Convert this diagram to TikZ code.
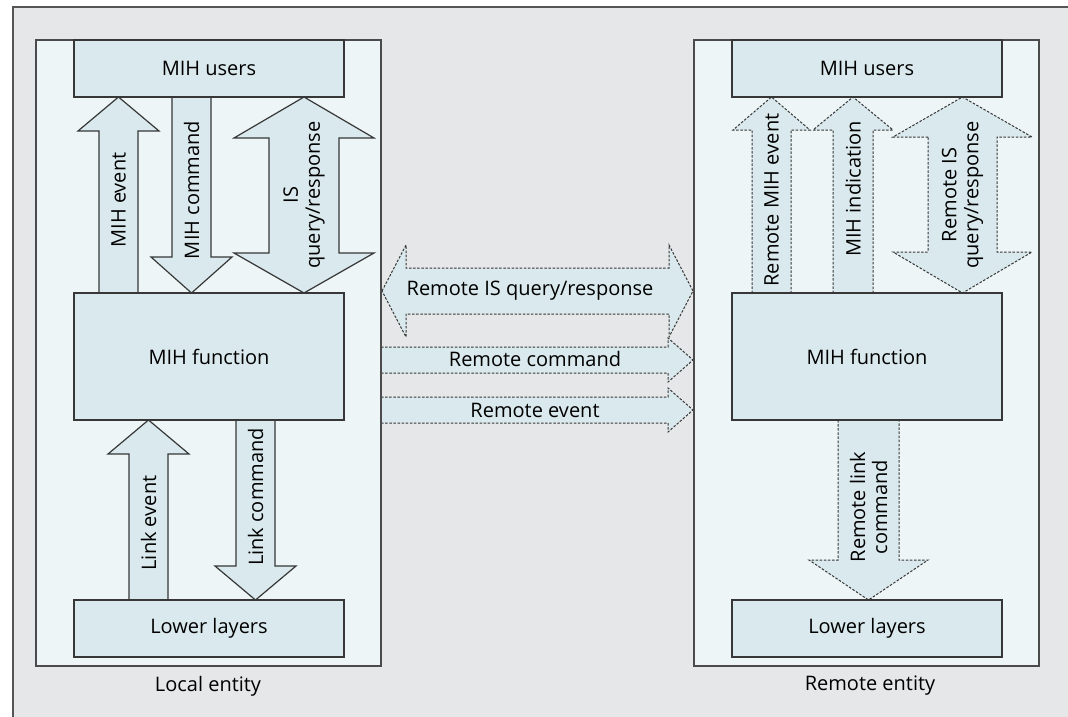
\documentclass[tikz,border=0pt]{standalone}
\usepackage{fontspec}
\setmainfont{Open Sans}
\definecolor{framegray}{RGB}{230,231,232}
\definecolor{panelblue}{RGB}{237,245,247}
\definecolor{boxblue}{RGB}{218,233,237}
\definecolor{edgegray}{RGB}{55,55,55}
\tikzset{
  layerbox/.style={draw=edgegray, line width=1.2pt, fill=boxblue, minimum width=270pt, inner sep=0pt, font=\fontsize{20}{23}\selectfont},
  entity/.style={draw=edgegray!90, line width=1.7pt, fill=panelblue},
  solidarrow/.style={draw=edgegray, line width=1.2pt, fill=boxblue},
  remotearrow/.style={draw=edgegray, line width=1pt, fill=boxblue, dash pattern=on 2.5pt off 1.6pt},
  arrowtext/.style={font=\fontsize{20}{22}\selectfont, align=center, inner sep=0pt},
}
\begin{document}
\begin{tikzpicture}[x=1pt,y=-1pt]
\useasboundingbox (0,0) rectangle (1068,717);
% frame
\fill[framegray] (13,7) rectangle (1068,717);
\draw[edgegray!85, line width=1.5pt] (13,717) -- (13,7) -- (1068,7);

% links between the two entities
\draw[remotearrow] (382,291) -- (406,245) -- (406,268) -- (669,268) -- (669,245) -- (693,291)
  -- (669,337) -- (669,314) -- (406,314) -- (406,337) -- cycle;
\draw[remotearrow] (381,347) -- (668,347) -- (668,338) -- (693,360) -- (668,382) -- (668,373) -- (381,373);
\draw[remotearrow] (381,397) -- (668,397) -- (668,388) -- (693,410) -- (668,432) -- (668,423) -- (381,423);

% entities
\draw[entity] (36,40) rectangle (381,666);
\draw[entity] (694,40) rectangle (1039,666);

% local arrows
\draw[solidarrow] (99,293) -- (99,131) -- (78,131) -- (118.5,97) -- (159,131) -- (138,131) -- (138,293);
\draw[solidarrow] (172,97) -- (172,257) -- (151,257) -- (191.5,293) -- (232,257) -- (211,257) -- (211,97);
\draw[solidarrow] (269,138) -- (234,138) -- (304,97) -- (374,138) -- (339,138) -- (339,253)
  -- (374,253) -- (304,293) -- (234,253) -- (269,253) -- cycle;
\draw[solidarrow] (129,600) -- (129,454) -- (108,454) -- (148.5,420) -- (189,454) -- (168,454) -- (168,600);
\draw[solidarrow] (236,420) -- (236,566) -- (215,566) -- (255.5,600) -- (296,566) -- (275,566) -- (275,420);

% remote arrows
\draw[remotearrow] (752,293) -- (752,130) -- (733,130) -- (771.5,97) -- (810,130) -- (791,130) -- (791,293);
\draw[remotearrow] (833,293) -- (833,130) -- (813,130) -- (853,97) -- (893,130) -- (873,130) -- (873,293);
\draw[remotearrow] (928,137) -- (893,137) -- (962.5,97) -- (1032,137) -- (997,137) -- (997,252)
  -- (1032,252) -- (962.5,293) -- (893,252) -- (928,252) -- cycle;
\draw[remotearrow] (838,420) -- (838,560) -- (809,560) -- (868.5,600) -- (928,560) -- (899,560) -- (899,420);

% layers
\node[layerbox, minimum height=57pt] (lusers) at (209,68.5) {MIH users};
\node[layerbox, minimum height=127pt] (lfunc) at (209,356.5) {MIH function};
\node[layerbox, minimum height=57pt] (llower) at (209,628.5) {Lower layers};
\node[layerbox, minimum height=57pt] (rusers) at (867,68.5) {MIH users};
\node[layerbox, minimum height=127pt] (rfunc) at (867,356.5) {MIH function};
\node[layerbox, minimum height=57pt] (rlower) at (867,628.5) {Lower layers};

% arrow labels
\node[arrowtext, rotate=90] (mihevent) at (118.5,200) {MIH event};
\node[arrowtext, rotate=90] (mihcmd) at (191.5,190) {MIH command};
\node[arrowtext, rotate=90] (isqr) at (304,195) {IS\\query/response};
\node[arrowtext, rotate=90] (linkevent) at (148.5,523) {Link event};
\node[arrowtext, rotate=90] (linkcmd) at (255.5,497) {Link command};
\node[arrowtext, rotate=90] (rmihevent) at (771.5,200) {Remote MIH event};
\node[arrowtext, rotate=90] (mihind) at (853,189) {MIH indication};
\node[arrowtext, rotate=90] (risqr) at (962.5,195) {Remote IS\\query/response};
\node[arrowtext, rotate=90] (rlinkcmd) at (868.5,507) {Remote link\\command};
\node[arrowtext] (remisqr) at (530,291) {Remote IS query/response};
\node[arrowtext] (remcmd) at (535,359) {Remote command};
\node[arrowtext] (remevent) at (535,410) {Remote event};

% entity names
\node[arrowtext] (local) at (208,686) {Local entity};
\node[arrowtext] (remote) at (870,686) {Remote entity};
\end{tikzpicture}
\end{document}
